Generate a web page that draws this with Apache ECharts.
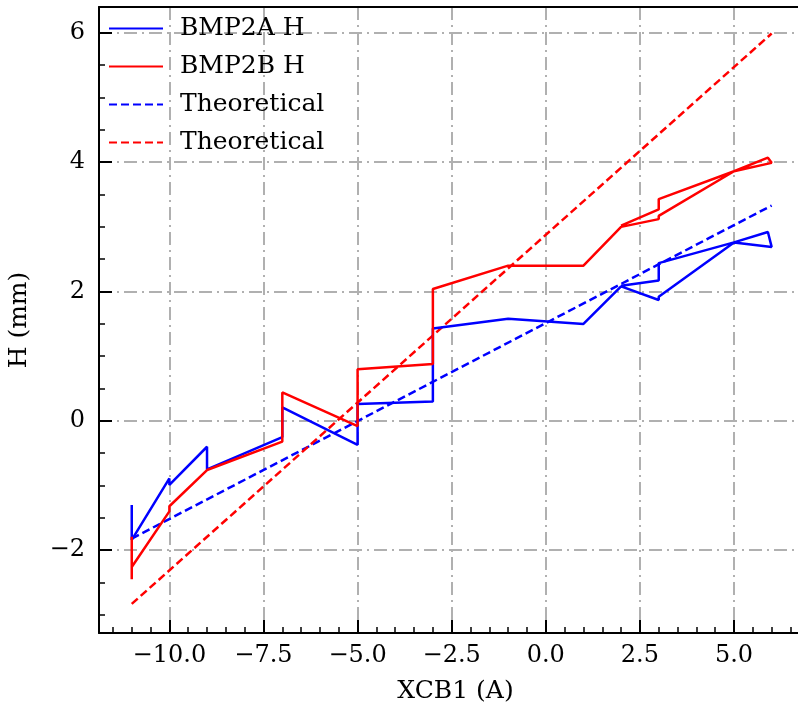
<!DOCTYPE html>
<html>
<head>
<meta charset="utf-8">
<script src="https://cdn.jsdelivr.net/npm/echarts@6/dist/echarts.min.js"></script>
<style>
  html, body { margin: 0; padding: 0; background: #fff; }
  #main { width: 798px; height: 709px; }
</style>
</head>
<body>
<div id="main"></div>
<script>
var blueX = [-11, -11, -10, -10, -9, -9, -7, -7, -5, -5, -3, -3, -1, 1, 2, 3, 3, 5, 5.9, 6, 5, 3, 3, 2];
var blueY = [-1.30, -1.84, -0.89, -0.99, -0.40, -0.75, -0.25, 0.21, -0.37, 0.26, 0.30, 1.43, 1.58, 1.50, 2.08, 1.87, 1.92, 2.76, 2.92, 2.69, 2.76, 2.44, 2.17, 2.09];
var redX = [-11, -11, -11, -10, -10, -9, -7, -7, -5, -5, -3, -3, -1, 1, 2, 3, 3, 5, 5.9, 6, 5, 3, 3, 2];
var redY = [-1.79, -2.45, -2.26, -1.40, -1.32, -0.76, -0.32, 0.44, -0.08, 0.80, 0.88, 2.04, 2.40, 2.40, 3.00, 3.12, 3.17, 3.86, 4.07, 3.99, 3.86, 3.43, 3.27, 3.02];
var theoAX = [-11, 6];
var theoAY = [-1.82, 3.33];
var theoBX = [-11, 6];
var theoBY = [-2.83, 5.99];

var xMajor = [-10, -7.5, -5, -2.5, 0, 2.5, 5];
var yMajor = [-2, 0, 2, 4, 6];

function pairs(xs, ys) {
    return xs.map(function (x, i) { return [x, ys[i]]; });
}
function minors(lo, hi, step, major) {
    var out = [];
    for (var v = lo; v <= hi + 1e-9; v += step) {
        var r = Math.round(v * 100) / 100;
        if (major.indexOf(r) < 0) out.push(r);
    }
    return out;
}
function fmt(d) {
    return function (v) {
        var s = Math.abs(v).toFixed(d);
        return (v < 0 ? '\u2212' : '') + s;
    };
}

var font = 'DejaVu Serif';
var gridLine = { show: true, lineStyle: { color: '#b0b0b0', width: 2, type: [13, 5, 2, 5] } };
var xMin = -11.87, xMax = 6.70, yMin = -3.28, yMax = 6.40;

var myChart = echarts.init(document.getElementById('main'));
option = {
    animation: false,
    backgroundColor: '#fff',
    grid: { left: 99, top: 7, right: 0, bottom: 76, containLabel: false, outerBoundsMode: 'none' },
    legend: {
        left: 103,
        top: 11,
        orient: 'vertical',
        itemWidth: 54,
        itemHeight: 24,
        itemGap: 13,
        itemStyle: { color: 'rgba(0,0,0,0)', borderWidth: 0, opacity: 0 },
        textStyle: { fontFamily: font, fontSize: 25, color: '#000', padding: [0, 0, 0, 12] },
        formatter: function (n) { return n.indexOf('Theoretical') === 0 ? 'Theoretical' : n; },
        data: ['BMP2A H', 'BMP2B H', 'Theoretical A', 'Theoretical B']
    },
    xAxis: [
        {
            type: 'value', min: xMin, max: xMax,
            name: 'XCB1 (A)', nameLocation: 'middle', nameGap: 46,
            nameTextStyle: { fontFamily: font, fontSize: 25, color: '#000', padding: [0, 0, 0, 14] },
            axisLine: { onZero: false, lineStyle: { color: '#000', width: 2 } },
            axisTick: { inside: true, length: 13, lineStyle: { color: '#000', width: 2 }, customValues: xMajor },
            axisLabel: { customValues: xMajor, formatter: fmt(1), margin: 11, fontFamily: font, fontSize: 24, color: '#000' },
            splitLine: gridLine
        },
        {
            type: 'value', min: xMin, max: xMax, position: 'bottom',
            axisLine: { show: false, onZero: false },
            axisTick: { inside: true, length: 6, lineStyle: { color: '#000', width: 1.5 }, customValues: minors(-11.5, 6.5, 0.5, xMajor) },
            axisLabel: { show: false },
            splitLine: { show: false }
        },
        {
            type: 'value', min: xMin, max: xMax, position: 'top',
            axisLine: { onZero: false, lineStyle: { color: '#000', width: 2 } },
            axisTick: { show: false }, axisLabel: { show: false }, splitLine: { show: false }
        }
    ],
    yAxis: [
        {
            type: 'value', min: yMin, max: yMax,
            name: 'H (mm)', nameLocation: 'middle', nameGap: 67,
            nameTextStyle: { fontFamily: font, fontSize: 25, color: '#000' },
            axisLine: { onZero: false, lineStyle: { color: '#000', width: 2 } },
            axisTick: { inside: true, length: 13, lineStyle: { color: '#000', width: 2 }, customValues: yMajor },
            axisLabel: { customValues: yMajor, formatter: fmt(0), margin: 14, fontFamily: font, fontSize: 24, color: '#000' },
            splitLine: gridLine
        },
        {
            type: 'value', min: yMin, max: yMax, position: 'left',
            axisLine: { show: false, onZero: false },
            axisTick: { inside: true, length: 6, lineStyle: { color: '#000', width: 1.5 }, customValues: minors(-3, 6, 0.5, yMajor) },
            axisLabel: { show: false },
            splitLine: { show: false }
        }
    ],
    series: [
        {
            name: 'BMP2A H', type: 'line', data: pairs(blueX, blueY), showSymbol: false, symbol: 'none',
            lineStyle: { color: '#0000ff', width: 2.5 }, itemStyle: { color: '#0000ff' }, z: 5
        },
        {
            name: 'BMP2B H', type: 'line', data: pairs(redX, redY), showSymbol: false, symbol: 'none',
            lineStyle: { color: '#ff0000', width: 2.5 }, itemStyle: { color: '#ff0000' }, z: 5
        },
        {
            name: 'Theoretical A', type: 'line', data: pairs(theoAX, theoAY), showSymbol: false, symbol: 'none',
            lineStyle: { color: '#0000ff', width: 2.5, type: [8, 4] }, itemStyle: { color: '#0000ff' }, z: 4
        },
        {
            name: 'Theoretical B', type: 'line', data: pairs(theoBX, theoBY), showSymbol: false, symbol: 'none',
            lineStyle: { color: '#ff0000', width: 2.5, type: [8, 4] }, itemStyle: { color: '#ff0000' }, z: 4
        }
    ]
};
myChart.setOption(option);
</script>
</body>
</html>
